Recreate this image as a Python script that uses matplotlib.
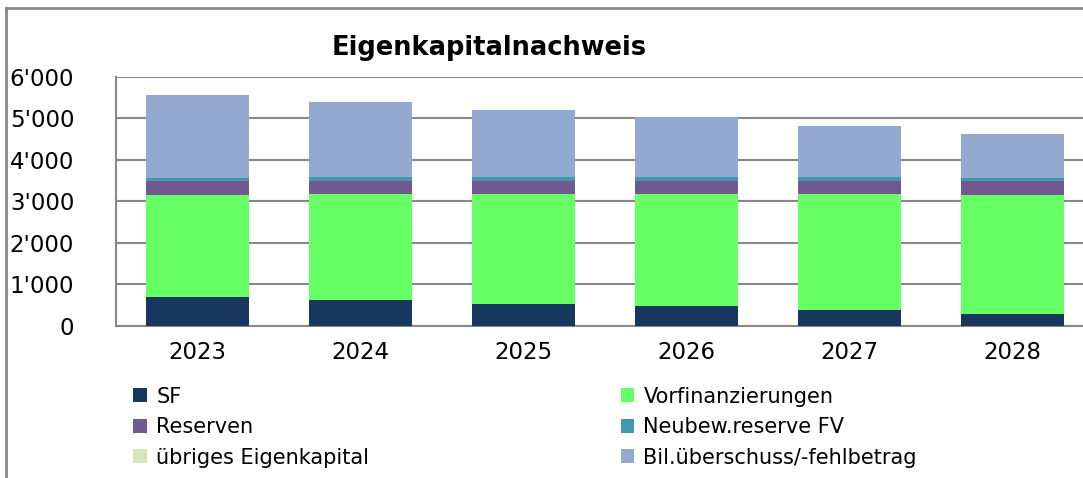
import numpy as np
import matplotlib.pyplot as plt
from matplotlib.patches import Patch
from matplotlib.lines import Line2D
from matplotlib.ticker import FuncFormatter

years = ["2023", "2024", "2025", "2026", "2027", "2028"]
sf = [700, 635, 540, 475, 380, 280]
vorfin = [2450, 2540, 2635, 2700, 2795, 2870]
reserven = [335, 330, 330, 330, 330, 335]
neubew = [75, 80, 80, 80, 80, 75]
uebriges = [0, 0, 0, 0, 0, 0]
bil = [2000, 1810, 1630, 1450, 1245, 1060]

names = ["SF", "Vorfinanzierungen", "Reserven", "Neubew.reserve FV",
         "übriges Eigenkapital", "Bil.überschuss/-fehlbetrag"]
series = [sf, vorfin, reserven, neubew, uebriges, bil]
colors = ["#17375e", "#66ff66", "#71588f", "#4198af", "#d7e4bd", "#94a9cf"]

fig = plt.figure(figsize=(10.83, 4.78), dpi=100)
ax = fig.add_axes([0.107, 0.318, 0.903, 0.521])

x = np.arange(len(years))
bottom = np.zeros(len(years))
for vals, c in zip(series, colors):
	ax.bar(x, vals, 0.63, bottom=bottom, color=c, zorder=3)
	bottom += np.array(vals)

ax.set_xlim(-0.5, 5.5)
ax.set_ylim(0, 6000)
ax.set_yticks(np.arange(0, 6001, 1000))
ax.yaxis.set_major_formatter(FuncFormatter(lambda v, p: f"{int(v):,}".replace(",", "'")))
ax.set_xticks(x)
ax.set_xticklabels(years)
ax.grid(axis='y', color="#888888", linewidth=1.5, zorder=0)
ax.tick_params(axis='both', length=0, labelsize=16.5)
ax.tick_params(axis='x', pad=11)
ax.tick_params(axis='y', pad=30)
for s in ["top", "right"]:
	ax.spines[s].set_visible(False)
for s in ["left", "bottom"]:
	ax.spines[s].set_color("#888888")
	ax.spines[s].set_linewidth(1.5)

fig.text(0.452, 0.9, "Eigenkapitalnachweis", ha='center', va='center',
	fontsize=18.5, fontweight='bold')

# outer chart border
fig.add_artist(Line2D([0.006, 0.006], [0.0, 0.983], color="#888888", lw=2))
fig.add_artist(Line2D([0.006, 1.0], [0.983, 0.983], color="#888888", lw=2))

def handles(idx):
	return [Patch(facecolor=colors[i], label=names[i]) for i in idx]

kw = dict(frameon=False, fontsize=15, handlelength=0.65, handleheight=0.65,
	handletextpad=0.45, labelspacing=0.5, borderaxespad=0, borderpad=0)
fig.legend(handles=handles([0, 2, 4]), loc='upper left', bbox_to_anchor=(0.123, 0.191), **kw)
fig.legend(handles=handles([1, 3, 5]), loc='upper left', bbox_to_anchor=(0.573, 0.191), **kw)

fig.savefig("out.png", dpi=100)
